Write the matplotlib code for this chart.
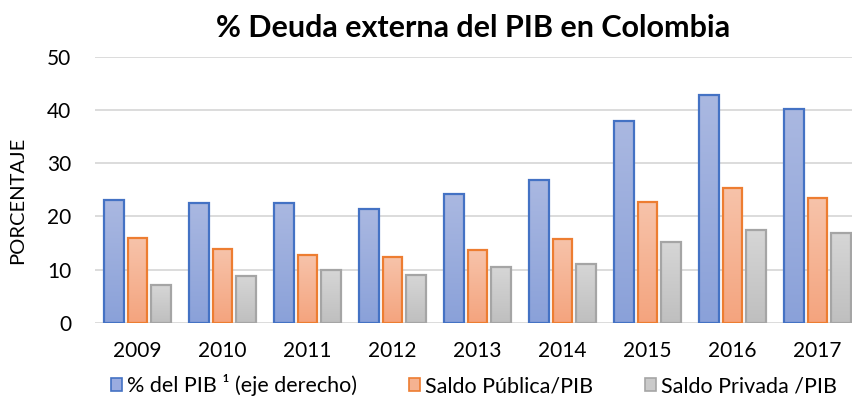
import numpy as np
import matplotlib
matplotlib.use('Agg')
import matplotlib.pyplot as plt
from matplotlib.patches import Patch
from matplotlib.colors import LinearSegmentedColormap

# datos
anios = ['2009', '2010', '2011', '2012', '2013', '2014', '2015', '2016', '2017']
pib = [23.0, 22.6, 22.6, 21.4, 24.2, 26.9, 38.0, 42.9, 40.1]
publica = [15.9, 13.8, 12.7, 12.4, 13.7, 15.8, 22.7, 25.4, 23.4]
privada = [7.1, 8.8, 9.9, 8.9, 10.4, 11.0, 15.2, 17.5, 16.8]

series = [pib, publica, privada]
nombres = ['% del PIB \u00b9 (eje derecho)', 'Saldo P\u00fablica/PIB', 'Saldo Privada /PIB']
bordes = ['#4472c4', '#ed7d31', '#a5a5a5']
arriba = ['#aab8e1', '#f7c3aa', '#d6d6d6']
abajo = ['#8aa1d9', '#f4a47e', '#bfbfbf']
medio = ['#9aace0', '#f5b291', '#cacaca']

plt.rcParams['font.family'] = ['Lato', 'DejaVu Sans']

fig = plt.figure(figsize=(8.53, 4.0), dpi=100)
ax = fig.add_axes([95/853, 0.193, 765/853, 0.665])

x = np.arange(len(anios))
ancho = 0.235
paso = 0.282
grad = np.linspace(1, 0, 100).reshape(-1, 1)

for i, vals in enumerate(series):
    pos = x + (i - 1) * paso
    barras = ax.bar(pos, vals, width=ancho, facecolor='none', edgecolor=bordes[i],
                    linewidth=1.6, zorder=3)
    cmap = LinearSegmentedColormap.from_list('g%d' % i, [abajo[i], arriba[i]])
    for b in barras:
        x0 = b.get_x()
        h = b.get_height()
        im = ax.imshow(grad, cmap=cmap, aspect='auto', extent=[x0, x0 + ancho, 0, h],
                       zorder=2, vmin=0, vmax=1)
        im.set_clip_path(b)

ax.set_xlim(-0.5, len(anios) - 0.5)
ax.set_ylim(0, 50)
ax.set_yticks([0, 10, 20, 30, 40, 50])
ax.set_xticks(x)
ax.set_xticklabels(anios)
ax.grid(axis='y', color='#d9d9d9', linewidth=1.3, zorder=0)
ax.set_axisbelow(True)
for s in ax.spines.values():
    s.set_visible(False)
ax.tick_params(length=0, labelsize=15, pad=13)
ax.tick_params(axis='y', pad=17)

ax.set_ylabel('PORCENTAJE', fontsize=14.5)
ax.yaxis.set_label_coords(-0.09, 0.46)

fig.text(0.555, 0.93, '% Deuda externa del PIB en Colombia', ha='center', va='center',
         fontsize=22, fontweight='bold')

handles = [Patch(facecolor=medio[i], edgecolor=bordes[i], linewidth=1.2) for i in range(3)]
fig.legend(handles, nombres, loc='center', bbox_to_anchor=(0.556, 0.037), ncol=3,
           frameon=False, fontsize=15.5, handlelength=0.5, handleheight=0.5,
           handletextpad=0.25, columnspacing=2.4)

fig.savefig('out.png', dpi=100)
